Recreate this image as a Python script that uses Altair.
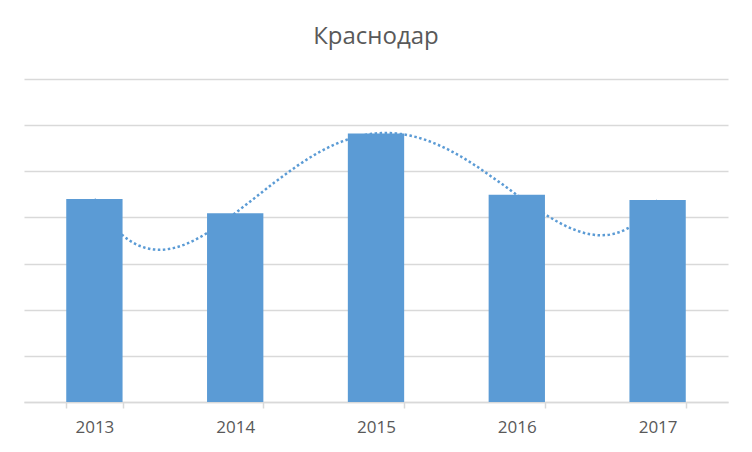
import altair as alt
import pandas as pd

years = ["2013", "2014", "2015", "2016", "2017"]
index = [1, 2, 3, 4, 5]
values = [4.40, 4.09, 5.82, 4.49, 4.38]
grid_values = [0, 1, 2, 3, 4, 5, 6, 7]
title_text = "Краснодар"

df = pd.DataFrame({"year": years, "i": index, "v": values})

BLUE = "#5b9bd5"
GRID = "#d9d9d9"
TEXT = "#595959"
FONT = "Open Sans"


def y_enc():
    return alt.Y(
        "v:Q",
        scale=alt.Scale(domain=[0, 7], nice=False, zero=True),
        axis=alt.Axis(values=grid_values, labels=False, ticks=False, domain=False,
                      grid=True, gridColor=GRID, gridWidth=1.5, title=None),
    )


trend = (
    alt.Chart(df)
    .transform_regression("i", "v", method="poly", order=4)
    .mark_line(color=BLUE, strokeWidth=2.5, strokeDash=[2.5, 2.5])
    .encode(
        x=alt.X("i:Q", scale=alt.Scale(domain=[0.5, 5.5], nice=False, zero=False), axis=None),
        y=y_enc(),
    )
)

bars = (
    alt.Chart(df)
    .mark_bar(color=BLUE)
    .encode(
        x=alt.X(
            "year:O",
            sort=years,
            scale=alt.Scale(paddingInner=0.6, paddingOuter=0.3),
            axis=alt.Axis(
                title=None, labelAngle=0, labelFont=FONT, labelFontSize=17,
                labelColor=TEXT, domainColor=GRID, tickColor=GRID, tickSize=6,
                tickBand="extent", labelPadding=11, domainWidth=1.5, tickWidth=1.5,
            ),
        ),
        y=y_enc(),
    )
)

chart = (
    alt.layer(trend, bars)
    .resolve_scale(x="independent")
    .properties(
        width=704,
        height=323,
        background="white",
        padding={"left": 16, "top": 71, "right": 16, "bottom": 36},
        autosize=alt.AutoSizeParams(type="none"),
        title=alt.TitleParams(
            title_text, font=FONT, fontSize=24, fontWeight="normal", color=TEXT,
            anchor="middle", baseline="alphabetic", offset=11,
        ),
    )
    .configure_view(strokeWidth=0, stroke="transparent")
)

chart.save("out.html", embed_options={"renderer": "svg", "actions": False})
